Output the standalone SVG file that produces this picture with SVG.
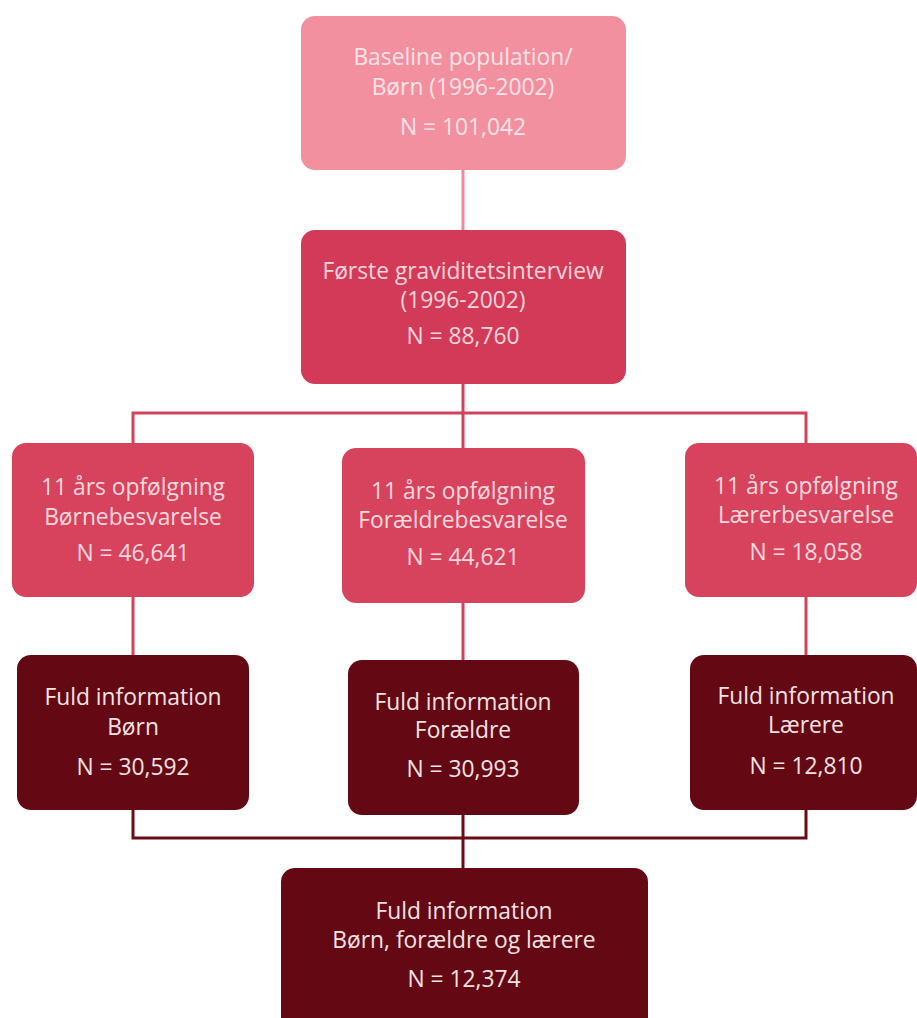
<svg xmlns="http://www.w3.org/2000/svg" width="917" height="1018" viewBox="0 0 917 1018">
<style>
text{font-family:"Open Sans","Liberation Sans",sans-serif;font-size:22.8px;text-anchor:middle}
.b1{fill:#f2909f}
.b1t{fill:#fde3e8}
.b2{fill:#d23a58}
.b2t{fill:#fbd5dc}
.b3{fill:#d7435d}
.b3t{fill:#fbd9df}
.dk{fill:#640914}
.dkt{fill:#f3e3e3}
.cl{fill:none;stroke:#ee8a9b;stroke-width:3}
.cr{fill:none;stroke:#d2425c;stroke-width:3}
.cd{fill:none;stroke:#6a0c18;stroke-width:3}
</style>
<rect width="917" height="1018" fill="#ffffff"/>
<g id="connectors">
<path class="cl" d="M463 170V230"/>
<path class="cr" d="M463 384V448M133 443V413H806V443"/>
<path class="cr" d="M133 597V655M463 603V660M806 597V655"/>
<path class="cd" d="M133 810V838H806V810M463 815V868"/>
</g>
<g id="baseline">
<rect class="b1" x="301" y="16" width="325" height="154" rx="14"/>
<text class="b1t" x="463" y="65">Baseline population/</text>
<text class="b1t" x="463" y="95">Børn (1996-2002)</text>
<text class="b1t" x="463" y="135">N = 101,042</text>
</g>
<g id="foerste">
<rect class="b2" x="301" y="230" width="325" height="154" rx="14"/>
<text class="b2t" x="463" y="279">Første graviditetsinterview</text>
<text class="b2t" x="463" y="308">(1996-2002)</text>
<text class="b2t" x="463" y="344">N = 88,760</text>
</g>
<g id="boern11">
<rect class="b3" x="12" y="443" width="242" height="154" rx="14"/>
<text class="b3t" x="133" y="495">11 års opfølgning</text>
<text class="b3t" x="133" y="525">Børnebesvarelse</text>
<text class="b3t" x="133" y="561">N = 46,641</text>
</g>
<g id="foraeldre11">
<rect class="b3" x="342" y="448" width="243" height="155" rx="14"/>
<text class="b3t" x="463" y="499">11 års opfølgning</text>
<text class="b3t" x="463" y="528">Forældrebesvarelse</text>
<text class="b3t" x="463" y="565">N = 44,621</text>
</g>
<g id="laerer11">
<rect class="b3" x="685" y="443" width="232" height="154" rx="14"/>
<text class="b3t" x="806" y="494">11 års opfølgning</text>
<text class="b3t" x="806" y="523">Lærerbesvarelse</text>
<text class="b3t" x="806" y="560">N = 18,058</text>
</g>
<g id="fuldBoern">
<rect class="dk" x="17" y="655" width="232" height="155" rx="14"/>
<text class="dkt" x="133" y="705">Fuld information</text>
<text class="dkt" x="133" y="735">Børn</text>
<text class="dkt" x="133" y="775">N = 30,592</text>
</g>
<g id="fuldForaeldre">
<rect class="dk" x="348" y="660" width="231" height="155" rx="14"/>
<text class="dkt" x="463" y="710">Fuld information</text>
<text class="dkt" x="463" y="738">Forældre</text>
<text class="dkt" x="463" y="777">N = 30,993</text>
</g>
<g id="fuldLaerere">
<rect class="dk" x="690" y="655" width="227" height="155" rx="14"/>
<text class="dkt" x="806" y="704">Fuld information</text>
<text class="dkt" x="806" y="733">Lærere</text>
<text class="dkt" x="806" y="774">N = 12,810</text>
</g>
<g id="fuldAlle">
<rect class="dk" x="281" y="868" width="367" height="165" rx="14"/>
<text class="dkt" x="464" y="919">Fuld information</text>
<text class="dkt" x="464" y="948">Børn, forældre og lærere</text>
<text class="dkt" x="464" y="987">N = 12,374</text>
</g>
</svg>
